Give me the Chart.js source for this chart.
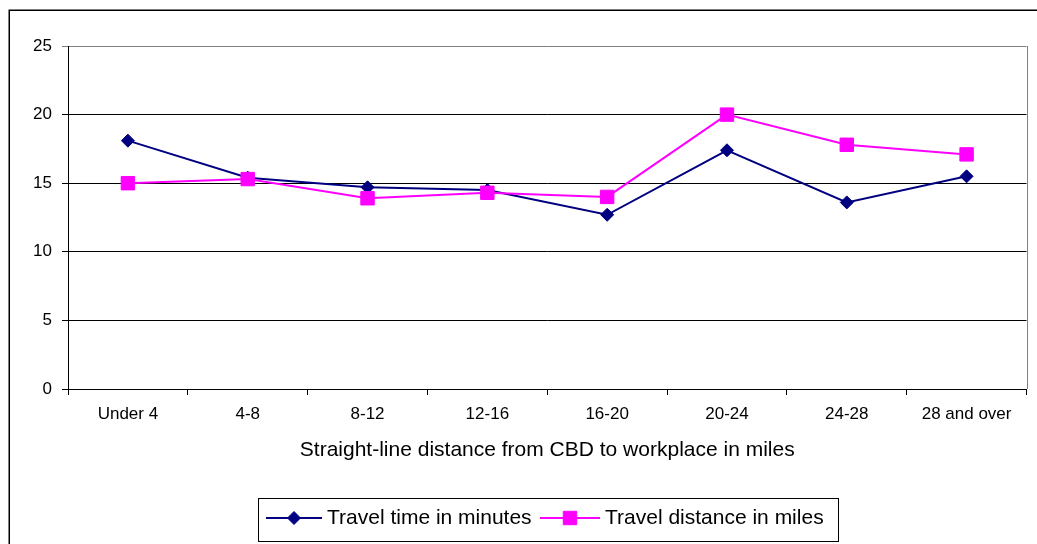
<!DOCTYPE html>
<html>
<head>
<meta charset="utf-8">
<script src="https://cdn.jsdelivr.net/npm/chart.js@4/dist/chart.umd.min.js"></script>
<style>
  html, body { margin: 0; padding: 0; background: #fff; }
  canvas { display: block; }
</style>
</head>
<body>
<canvas id="chart" width="1037" height="544"></canvas>
<script>
// Distance bands from the CBD
const categories = ['Under 4', '4-8', '8-12', '12-16', '16-20', '20-24', '24-28', '28 and over'];
// Average commute per band
const travelTimeMinutes = [18.1, 15.4, 14.7, 14.5, 12.7, 17.4, 13.6, 15.5];
const travelDistanceMiles = [15.0, 15.3, 13.9, 14.3, 14.0, 20.0, 17.8, 17.1];
const yTicks = [0, 5, 10, 15, 20, 25];

const seriesNames = ['Travel time in minutes', 'Travel distance in miles'];
const NAVY = '#000080';
const MAGENTA = '#FF00FF';
const FONT = '"Liberation Sans", Arial, sans-serif';

// Outer frame, right plot border and the line-with-marker legend
const framePlugin = {
  id: 'frame',
  beforeDraw(chart) {
    const ctx = chart.ctx;
    ctx.save();
    ctx.fillStyle = '#fff';
    ctx.fillRect(0, 0, chart.width, chart.height);
    ctx.strokeStyle = '#000';
    ctx.lineWidth = 1.5;
    ctx.beginPath();
    ctx.moveTo(9.25, chart.height + 5);
    ctx.lineTo(9.25, 10.25);
    ctx.lineTo(chart.width + 5, 10.25);
    ctx.stroke();
    ctx.restore();
  },
  afterDatasetsDraw(chart) {
    const ctx = chart.ctx;
    const a = chart.chartArea;
    ctx.save();
    ctx.strokeStyle = '#808080';
    ctx.lineWidth = 1;
    ctx.beginPath();
    ctx.moveTo(Math.round(a.right) + 0.5, a.top);
    ctx.lineTo(Math.round(a.right) + 0.5, a.bottom);
    ctx.stroke();
    ctx.restore();
  },
  afterDraw(chart) {
    const ctx = chart.ctx;
    ctx.save();
    // legend box
    ctx.strokeStyle = '#000';
    ctx.lineWidth = 1;
    ctx.strokeRect(258.5, 498.5, 580, 43);
    const cy = 518;
    const items = [
      { x0: 266, x1: 322, tx: 327, ds: chart.data.datasets[0] },
      { x0: 540, x1: 600, tx: 605, ds: chart.data.datasets[1] }
    ];
    items.forEach(it => {
      const ds = it.ds;
      ctx.strokeStyle = ds.borderColor;
      ctx.lineWidth = ds.borderWidth;
      ctx.beginPath();
      ctx.moveTo(it.x0, cy);
      ctx.lineTo(it.x1, cy);
      ctx.stroke();
      const mx = (it.x0 + it.x1) / 2;
      ctx.fillStyle = ds.pointBackgroundColor;
      ctx.strokeStyle = ds.pointBorderColor;
      ctx.lineWidth = 1;
      ctx.beginPath();
      const r = ds.pointRadius;
      if (ds.pointStyle === 'rectRot') {
        ctx.moveTo(mx - r, cy);
        ctx.lineTo(mx, cy - r);
        ctx.lineTo(mx + r, cy);
        ctx.lineTo(mx, cy + r);
        ctx.closePath();
      } else {
        const s = Math.SQRT1_2 * r;
        ctx.rect(mx - s, cy - s, 2 * s, 2 * s);
      }
      ctx.fill();
      ctx.stroke();
      ctx.fillStyle = '#000';
      ctx.font = '21px ' + FONT;
      ctx.textBaseline = 'middle';
      ctx.textAlign = 'left';
      ctx.fillText(ds.label, it.tx, cy);
    });
    ctx.restore();
  }
};

new Chart(document.getElementById('chart'), {
  type: 'line',
  data: {
    labels: categories,
    datasets: [
      {
        label: seriesNames[0],
        data: travelTimeMinutes,
        borderColor: NAVY,
        backgroundColor: NAVY,
        borderWidth: 2,
        pointStyle: 'rectRot',
        pointRadius: 6.5,
        pointBackgroundColor: NAVY,
        pointBorderColor: NAVY,
        pointBorderWidth: 1,
        tension: 0,
        order: 1
      },
      {
        label: seriesNames[1],
        data: travelDistanceMiles,
        borderColor: MAGENTA,
        backgroundColor: MAGENTA,
        borderWidth: 2,
        pointStyle: 'rect',
        pointRadius: 9.5,
        pointBackgroundColor: MAGENTA,
        pointBorderColor: MAGENTA,
        pointBorderWidth: 1,
        tension: 0,
        order: 0
      }
    ]
  },
  options: {
    responsive: false,
    animation: false,
    devicePixelRatio: 1,
    layout: { padding: { left: 0, top: 46, right: 7, bottom: 0 } },
    plugins: {
      legend: { display: false },
      tooltip: { enabled: false },
      title: { display: false }
    },
    scales: {
      x: {
        offset: true,
        afterFit: s => { s.height = 155; },
        grid: {
          display: true,
          offset: true,
          drawOnChartArea: false,
          drawTicks: true,
          tickLength: 6,
          color: '#000',
          lineWidth: 1
        },
        border: { display: true, color: '#000', width: 1 },
        ticks: {
          color: '#000',
          font: { family: FONT, size: 17 },
          padding: 9,
          maxRotation: 0,
          autoSkip: false
        },
        title: {
          display: true,
          text: 'Straight-line distance from CBD to workplace in miles',
          color: '#000',
          font: { family: FONT, size: 21 },
          padding: { top: 0, bottom: 81 }
        }
      },
      y: {
        min: yTicks[0],
        max: yTicks[yTicks.length - 1],
        afterFit: s => { s.width = 68; },
        afterBuildTicks: s => { s.ticks = yTicks.map(v => ({ value: v })); },
        grid: {
          drawTicks: true,
          tickLength: 6,
          color: c => (c.tick && c.tick.value === 25 ? '#808080' : '#000'),
          lineWidth: 1
        },
        border: { display: true, color: '#000', width: 1 },
        ticks: {
          color: '#000',
          font: { family: FONT, size: 17 },
          padding: 10
        }
      }
    }
  },
  plugins: [framePlugin]
});
</script>
</body>
</html>
